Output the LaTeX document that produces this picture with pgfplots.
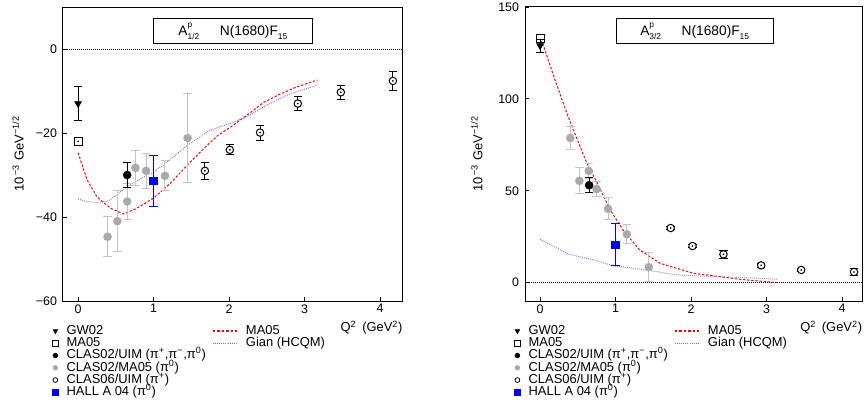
\documentclass[border=0pt]{standalone}
\usepackage{fontspec}
\setmainfont{Liberation Sans}
\usepackage{pgfplots}
\pgfplotsset{compat=1.18}

\definecolor{ptgray}{RGB}{170,170,170}
\definecolor{bargray}{RGB}{195,195,195}
\definecolor{gianblue}{RGB}{105,105,255}
\definecolor{hallblue}{RGB}{0,0,255}
\definecolor{mared}{RGB}{255,0,0}

\newcommand{\fs}{\fontsize{9.7}{11}\selectfont}
\newcommand{\ft}{\fontsize{9.3}{10}\selectfont}
\newcommand{\fti}{\fontsize{10.3}{12}\selectfont}
\newcommand{\sm}[1]{{\fontsize{6.3}{7}\selectfont #1}}

\pgfplotsset{
  markimg/.style={legend image code/.code={\draw[##1] plot coordinates {(0pt,0pt)};}},
  panel/.style={
    scale only axis,
    height=220.5pt,
    xmin=-0.2,
    xtick={0,1,2,3,4},
    xticklabels={0,1,2,3,4},
    tick pos=left,
    tick align=inside,
    major tick length=3pt,
    tick style={black, line width=0.6pt},
    axis line style={line width=0.75pt},
    tick label style={font=\ft},
    yticklabel style={xshift=-1pt},
    xticklabel style={yshift=1pt},
    every axis x label/.style={at={(rel axis cs:1,0)}, anchor=north east,
      inner sep=0pt, text height=7pt, yshift=-16pt, font=\fs},
    xlabel={\fs Q\textsuperscript{2}\hspace{0.45em}(GeV\textsuperscript{2})},
    ylabel={\fs 10\,\textsuperscript{−3}\hspace{0.3em}GeV\textsuperscript{−1/2}},
    legend columns=2,
    legend cell align=left,
    legend style={draw=none, fill=none, at={(rel axis cs:0,0)},
      anchor=north west, xshift=-8pt, yshift=-17.9pt,
      inner sep=0pt, outer sep=0pt, column sep=6pt, row sep=0pt,
      font=\fs,
      nodes={inner sep=0.1pt, text height=6.9pt, text depth=2.1pt},
      /tikz/column 2/.style={column sep=4.5pt}},
  },
  ebar/.style={error bars/.cd, y dir=both, y explicit,
    error bar style={#1, line width=0.75pt},
    error mark options={#1, rotate=90, mark size=3.2pt, line width=0.75pt}},
  gw/.style={forget plot, black, only marks, mark=triangle*, mark size=3pt,
    mark options={rotate=180}, ebar=black},
  ma/.style={forget plot, black, only marks, mark=square, mark size=3pt,
    mark options={line width=0.75pt, fill=white}},
  uim/.style={forget plot, black, only marks, mark=*, mark size=3pt, ebar=black},
  grayp/.style={forget plot, ptgray, only marks, mark=*, mark size=3pt, ebar=bargray},
  opn/.style={forget plot, black, only marks, mark=*, mark size=2.8pt,
    mark options={fill=white, line width=0.75pt}, ebar=black},
  hall/.style={forget plot, hallblue, only marks, mark=square*, mark size=2.9pt, ebar=hallblue},
  dotc/.style={forget plot, black, only marks, mark=*, mark size=0.4pt},
  maline/.style={color=mared, draw=mared, no marks, line width=0.75pt,
    dash pattern=on 1.8pt off 1.3pt,
    legend image code/.code={\pgfsetstrokecolor{mared}\pgfsetfillcolor{mared}%
      \draw[color=mared, line width=0.9pt, dash pattern=on 2pt off 1.4pt] (0pt,0pt) -- (18.5pt,0pt);}},
  gianline/.style={color=gianblue, draw=gianblue, no marks, line width=0.75pt,
    dash pattern=on 0.6pt off 0.9pt,
    legend image code/.code={\pgfsetstrokecolor{gianblue}\pgfsetfillcolor{gianblue}%
      \draw[color=gianblue, line width=0.9pt, dash pattern=on 0.7pt off 0.9pt] (0pt,0pt) -- (18.5pt,0pt);}},
  zeroline/.style={forget plot, black, line width=0.5pt, dash pattern=on 0.5pt off 1pt},
}

% legend entries before the MA05 curve, between the two curves, and after them
\newcommand{\legendA}{%
  \addlegendimage{black, mark=triangle*, mark size=2pt, mark options={rotate=180}, markimg}
  \addlegendentry{\fs GW02}
}
\newcommand{\legendB}{%
  \addlegendimage{black, mark=square, mark size=2.3pt, mark options={line width=0.6pt}, markimg}
  \addlegendentry{\fs MA05}
}
\newcommand{\legendC}{%
  \addlegendimage{black, mark=*, mark size=1.8pt, markimg}
  \addlegendentry{\fs CLAS02/UIM (π\textsuperscript{+},π\textsuperscript{−},π\textsuperscript{0})}
  \addlegendimage{empty legend}
  \addlegendentry{}
  \addlegendimage{ptgray, mark=*, mark size=1.8pt, markimg}
  \addlegendentry{\fs CLAS02/MA05 (π\textsuperscript{0})}
  \addlegendimage{empty legend}
  \addlegendentry{}
  \addlegendimage{black, mark=o, mark size=1.8pt, mark options={line width=0.6pt}, markimg}
  \addlegendentry{\fs CLAS06/UIM (π\textsuperscript{+})}
  \addlegendimage{empty legend}
  \addlegendentry{}
  \addlegendimage{hallblue, mark=square*, mark size=2pt, markimg}
  \addlegendentry{\fs HALL A 04 (π\textsuperscript{0})}
  \addlegendimage{empty legend}
  \addlegendentry{}
}

\begin{document}
\begin{tikzpicture}
\useasboundingbox (0pt,0pt) rectangle (649.5pt,302.25pt);

% ---------------- A_1/2 ----------------
\begin{axis}[panel,
  at={(47.25pt,76.5pt)}, anchor=south west,
  width=254.8pt, xmax=4.3,
  ymin=-60, ymax=10,
  ytick={-60,-40,-20,0},
  yticklabels={−60,−40,−20,0},
  every axis y label/.style={at={(rel axis cs:-0.1325,0.5)}, anchor=center, rotate=90, font=\fs},
]
\addplot[zeroline] coordinates {(-0.2,0) (4.3,0)};
\legendA
\addplot[maline] coordinates {
  (0,-24.7) (0.12,-31.2) (0.25,-35.2) (0.43,-37.9) (0.6,-39.3) (0.78,-37.9)
  (1.0,-35.5) (1.22,-32.0) (1.45,-27.6) (1.67,-23.6) (1.85,-20.6) (2.02,-18.6)
  (2.24,-15.7) (2.46,-12.7) (2.68,-10.7) (2.9,-9.0) (3.17,-7.4)};
\addlegendentry{\fs MA05}
\legendB
\addplot[gianline] coordinates {
  (0,-35.7) (0.1,-36.3) (0.25,-36.6) (0.4,-36.2) (0.52,-34.6) (0.65,-32.8)
  (0.82,-31.0) (1.0,-29.3) (1.2,-26.6) (1.45,-22.9) (1.75,-19.3) (2.02,-17.7)
  (2.24,-16.1) (2.51,-13.3) (2.79,-10.8) (3.17,-8.6)};
\addlegendentry{\fs Gian (HCQM)}
\legendC
\addplot[grayp] coordinates {
  (0.39,-44.7) +- (0,4.8)
  (0.52,-41.0) +- (0,7.2)
  (0.65,-36.3) +- (0,4.2)
  (0.76,-28.3) +- (0,4.2)
  (0.90,-29.0) +- (0,4.2)
  (1.15,-30.2) +- (0,3.6)
  (1.45,-21.2) +- (0,10.7)};
\addplot[gw] coordinates {(0,-13) +- (0,4)};
\addplot[ma] coordinates {(0,-22)};
\addplot[dotc] coordinates {(0,-22)};
\addplot[uim] coordinates {(0.65,-30) +- (0,3)};
\addplot[hall] coordinates {(1.0,-31.4) +- (0,6)};
\addplot[opn] coordinates {
  (1.68,-29.0) +- (0,2.0)
  (2.01,-24.0) +- (0,1.2)
  (2.41,-19.9) +- (0,1.8)
  (2.91,-13.0) +- (0,1.7)
  (3.48,-10.3) +- (0,1.7)
  (4.17,-7.6) +- (0,2.2)};
\addplot[dotc] coordinates {(1.68,-29.0) (2.01,-24.0) (2.41,-19.9) (2.91,-13.0) (3.48,-10.3) (4.17,-7.6)};
\node[draw, fill=white, line width=0.75pt, minimum width=119pt, minimum height=17pt, font=\fti]
  at (rel axis cs:0.5,0.917) {\fti A\rlap{\raisebox{0.55em}{\sm{p}}}\raisebox{-0.3em}{\sm{1/2}}\hspace{1.5em}N(1680)F\raisebox{-0.3em}{\sm{15}}};
\end{axis}

% ---------------- A_3/2 ----------------
\begin{axis}[panel,
  at={(393.75pt,76.5pt)}, anchor=south west,
  width=253pt, xmax=4.27,
  ymin=-10, ymax=150,
  ytick={0,50,100,150},
  yticklabels={0,50,100,150},
  every axis y label/.style={at={(rel axis cs:-0.143,0.5)}, anchor=center, rotate=90, font=\fs},
]
\addplot[zeroline] coordinates {(-0.2,0) (4.27,0)};
\legendA
\addplot[maline] coordinates {
  (0,132) (0.044,129) (0.2,110) (0.375,90) (0.55,72) (0.62,65) (0.75,54.8)
  (0.93,39.5) (1.10,28.6) (1.32,17.8) (1.59,10.5) (2.03,5.1) (2.65,1.8) (3.14,0)};
\addlegendentry{\fs MA05}
\legendB
\addplot[gianline] coordinates {
  (0,23.5) (0.26,18.1) (0.38,15.5) (0.71,12.3) (0.97,9.2) (1.41,6.9)
  (1.81,4.2) (2.3,3.3) (2.65,2.9) (3.14,1.8)};
\addlegendentry{\fs Gian (HCQM)}
\legendC
\addplot[grayp] coordinates {
  (0.40,78.7) +- (0,6.2)
  (0.52,55.4) +- (0,7.0)
  (0.645,60.8) +- (0,4.0)
  (0.75,50.9) +- (0,4.3)
  (0.90,40.2) +- (0,6.0)
  (1.15,26.3) +- (0,5.2)
  (1.44,8.4) +- (0,8.0)};
\addplot[ma] coordinates {(0,133)};
\addplot[gw] coordinates {(0,129) +- (0,3.5)};
\addplot[uim] coordinates {(0.65,53) +- (0,4)};
\addplot[hall] coordinates {(1.0,20.6) +- (0,11.5)};
\addplot[opn] coordinates {
  (1.73,29.7) +- (0,1.0)
  (2.02,19.9) +- (0,1.0)
  (2.43,15.4) +- (0,2.0)
  (2.93,9.4) +- (0,1.0)
  (3.46,6.9) +- (0,1.0)
  (4.16,5.8) +- (0,2.0)};
\addplot[dotc] coordinates {(1.73,29.7) (2.02,19.9) (2.43,15.4) (2.93,9.4) (3.46,6.9) (4.16,5.8)};
\node[draw, fill=white, line width=0.75pt, minimum width=118pt, minimum height=17pt, font=\fti]
  at (rel axis cs:0.503,0.917) {\fti A\rlap{\raisebox{0.55em}{\sm{p}}}\raisebox{-0.3em}{\sm{3/2}}\hspace{1.5em}N(1680)F\raisebox{-0.3em}{\sm{15}}};
\end{axis}
\end{tikzpicture}
\end{document}
